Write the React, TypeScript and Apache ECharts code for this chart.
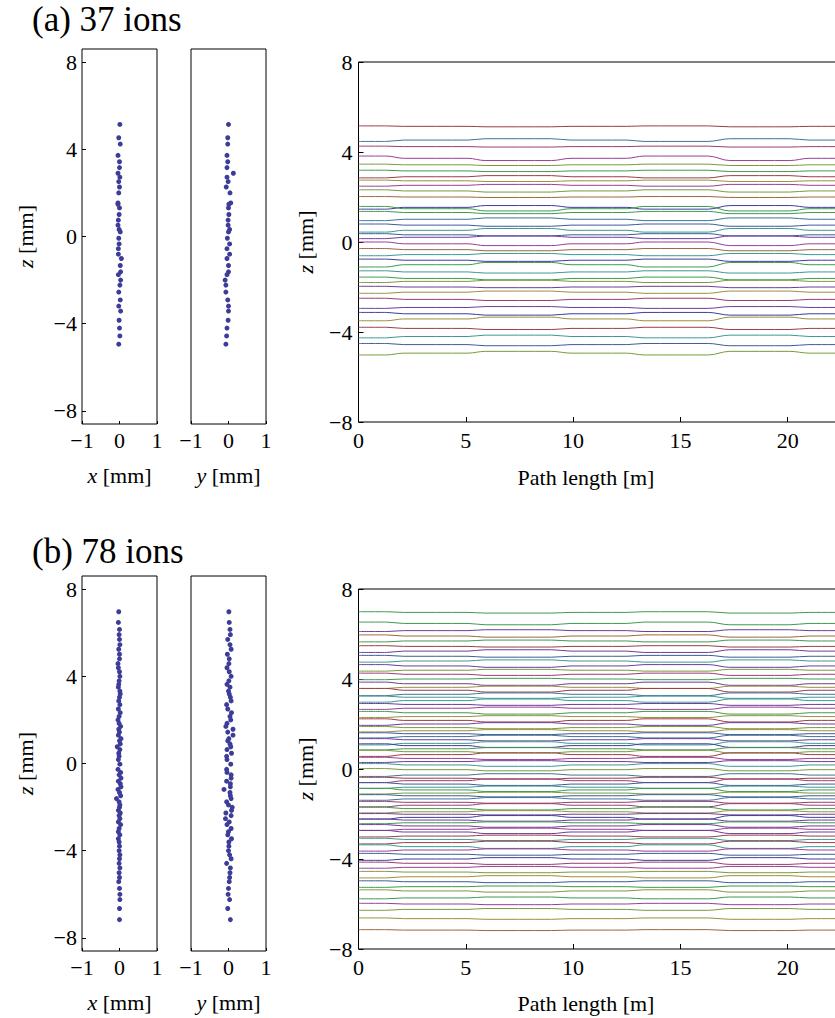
import React, { useEffect, useRef } from 'react';
import * as echarts from 'echarts';

// ---------- data: (a) 37 ions ----------
const zA = [5.14, 4.53, 4.24, 3.72, 3.43, 3.16, 2.90, 2.72, 2.52, 2.27, 2.00, 1.54, 1.48, 1.31, 1.01, 0.75, 0.52, 0.32, 0.21, -0.08, -0.34, -0.56, -0.81, -1.01, -1.33, -1.62, -1.75, -2.00, -2.23, -2.55, -2.91, -3.19, -3.42, -3.84, -4.20, -4.56, -4.94];
const xA = [0.01, -0.02, 0.02, -0.04, 0, 0, -0.04, 0.01, -0.02, 0, -0.02, -0.04, -0.04, 0, -0.01, -0.03, -0.04, -0.01, 0.02, -0.02, -0.01, -0.03, -0.03, 0.05, 0.02, 0.03, -0.03, 0.03, 0.01, -0.02, 0.02, -0.02, 0.03, -0.01, 0, 0.01, -0.02];
const yA = [0, -0.02, -0.02, -0.04, -0.02, -0.04, 0.13, -0.04, -0.01, -0.06, 0.04, 0.06, 0.01, 0, 0.01, -0.01, -0.01, 0.03, 0, -0.03, 0.03, -0.04, 0.03, -0.04, 0, 0, -0.04, -0.09, -0.07, -0.07, -0.02, 0, 0, -0.01, -0.04, -0.05, -0.07];
const ampA = [0.02, -0.06, 0.02, 0.10, 0.03, 0.03, -0.05, 0.03, -0.04, 0.05, 0.02, -0.08, 0.10, 0.05, -0.06, 0.05, -0.08, 0.05, -0.06, 0.08, 0.05, -0.05, 0.05, -0.10, 0.05, 0.06, -0.05, 0.03, -0.05, 0.05, -0.04, 0.06, -0.08, 0.05, -0.06, 0.05, -0.08];

// ---------- data: (b) 78 ions ----------
const zB = [6.96, 6.47, 6.15, 5.91, 5.69, 5.45, 5.24, 5.01, 4.80, 4.58, 4.39, 4.21, 4.00, 3.79, 3.63, 3.50, 3.32, 3.19, 3.04, 2.87, 2.70, 2.50, 2.33, 2.16, 2.00, 1.84, 1.70, 1.57, 1.44, 1.30, 1.14, 1.04, 0.90, 0.77, 0.64, 0.47, 0.33, 0.18,
  -0.03, -0.27, -0.41, -0.52, -0.67, -0.81, -0.93, -1.07, -1.19, -1.33, -1.48, -1.61, -1.76, -1.90, -2.01, -2.15, -2.27, -2.39, -2.53, -2.68, -2.80, -2.98, -3.13, -3.27, -3.45, -3.60, -3.79, -4.00, -4.19, -4.37, -4.58, -4.79, -5.01, -5.23, -5.42, -5.73, -6.00, -6.24, -6.65, -7.16];
const xB = [-0.02, -0.03, 0, -0.01, 0, 0.01, -0.02, 0, 0, -0.04, -0.03, 0, 0.01, -0.01, -0.02, -0.03, 0.01, 0.02, 0, -0.02, 0.01, -0.03, 0.02, -0.01, -0.04, -0.01, 0.03, -0.02, 0, -0.03, 0.04, 0, 0.02, -0.06, 0.01, -0.02, -0.01, -0.03, 0.01,
  -0.04, 0.03, -0.01, 0.04, -0.03, 0.02, 0.04, -0.04, 0, 0.03, -0.08, -0.01, 0.01, 0, -0.03, 0.02, -0.01, 0.01, -0.03, 0.03, -0.01, -0.03, 0.01, -0.03, -0.01, 0, -0.01, 0.01, 0, -0.01, 0.01, -0.01, 0, -0.02, 0, 0.01, 0.01, 0, 0];
const yB = [0.01, 0.02, 0.04, 0.05, -0.02, 0.04, 0.07, -0.03, 0.02, 0.01, -0.04, 0.02, 0.07, 0.01, -0.04, 0.04, 0, 0.02, 0.05, 0.07, -0.05, -0.02, 0.08, 0.04, 0.06, -0.04, -0.07, 0.12, -0.02, 0.12, 0.01, -0.02, 0.04, 0.06, -0.04, 0.08, -0.05, -0.04, 0.06,
  -0.05, -0.04, 0.07, 0.07, -0.05, 0.05, 0.05, -0.12, 0.04, 0.05, 0.07, -0.05, 0, 0.1, 0.08, -0.07, 0.07, -0.08, 0.02, -0.04, 0.07, 0, -0.02, 0.08, 0.01, 0.01, 0, 0.03, 0.07, -0.05, 0.05, 0.04, 0.03, 0.02, 0, -0.01, 0.03, -0.02, 0.05];
const ampB = [0.03, 0.06, -0.04, 0.05, -0.04, 0.03, -0.06, 0.04, -0.05, 0.06,
  -0.04, 0.05, -0.03, 0.07, -0.05, 0.08, -0.06, 0.05, -0.07, 0.04,
  -0.05, 0.06, -0.04, 0.07, -0.06, 0.05, -0.05, 0.04, -0.06, 0.05,
  -0.07, 0.08, -0.05, 0.06, -0.08, 0.05, -0.04, 0.06, 0.05, -0.06,
  0.04, -0.08, 0.06, -0.05, 0.07, -0.04, 0.05, -0.06, 0.04, -0.07,
  0.06, -0.05, 0.03, -0.08, 0.05, -0.04, 0.06, -0.05, 0.07, -0.04,
  0.05, -0.06, 0.08, -0.05, 0.04, -0.06, 0.05, -0.04, 0.03, -0.05,
  0.04, -0.03, 0.05, -0.04, 0.03, -0.04, 0.03, 0.02];

// path-length knots of the trajectories (m) and the relative shift at each knot
const pathKnots = [0, 1.3, 2.1, 5.1, 5.9, 9.0, 9.9, 12.5, 13.3, 16.3, 17.3, 20.1, 21.0, 25];
const knotShift = [1, 1, 0, 0, -1, -1, 0, 0, 1, 1, -1, -1, 0, 0];

const zTicks = [-8, -4, 0, 4, 8];
const titles = ['(a) 37 ions', '(b) 78 ions'];
const pathName = 'Path length [m]';

// ---------- styles ----------
const palette: Record<string, string> = {
  DB: '#3d3d99', B: '#3d5a99', SB: '#3d7399', T: '#3d9990', G: '#3d9950', OG: '#7a993d',
  K: '#99903d', BR: '#99683d', R: '#993d45', PK: '#993d6e', M: '#993d95', P: '#6a3d99',
};
const colorsA = ['R', 'SB', 'PK', 'M', 'OG', 'G', 'R', 'K', 'M', 'OG', 'BR', 'DB', 'G', 'G', 'SB', 'B', 'T', 'B', 'P', 'M', 'BR', 'T', 'DB', 'G', 'T', 'G', 'OG', 'P', 'K', 'PK', 'P', 'DB', 'K', 'R', 'T', 'B', 'OG'];
const colorsB = ['G', 'G', 'P', 'BR', 'G', 'R', 'P', 'B', 'T', 'P', 'OG', 'PK', 'G', 'P', 'K', 'R', 'SB', 'T', 'T', 'P', 'M', 'G', 'K', 'R', 'P', 'OG', 'K', 'B', 'SB', 'P', 'T', 'DB', 'G', 'OG', 'R', 'M', 'P', 'T',
  'OG', 'SB', 'R', 'PK', 'B', 'T', 'G', 'OG', 'B', 'SB', 'PK', 'PK', 'G', 'K', 'P', 'DB', 'P', 'G', 'P', 'M', 'P', 'R', 'T', 'R', 'T', 'M', 'B', 'DB', 'PK', 'M', 'OG', 'K', 'B', 'G', 'OG', 'G', 'M', 'OG', 'K', 'BR'];

const FONT = 'Liberation Serif';
const FS = 22;
const DOT = '#3d3d99';

const fmt = (v: number) => (v < 0 ? '\u2212' + Math.abs(v) : String(v));
const nameStyle = {
  fontSize: FS, fontFamily: FONT, color: '#000',
  rich: { i: { fontStyle: 'italic', fontSize: FS, fontFamily: FONT, color: '#000' } },
};
const labelBase = { fontSize: FS, fontFamily: FONT, color: '#000', formatter: fmt };
const noLine = { show: false, onZero: false };

function buildPanel(offset: number, idx: number, z: number[], xs: number[], ys: number[], amps: number[], cols: string[]) {
  const grids = [
    { left: 82, top: 49 + offset, width: 75, height: 375 },
    { left: 191, top: 49 + offset, width: 75, height: 375 },
    { left: 358.5, top: 62 + offset, width: 536.5, height: 360 },
  ].map((g) => ({ ...g, show: true, borderColor: '#000', borderWidth: 1, backgroundColor: 'transparent', outerBoundsMode: 'none', containLabel: false }));

  const scatterX = (gi: number, letter: string) => ({
    gridIndex: gi, type: 'value', min: -1, max: 1, interval: 1,
    axisLine: noLine, splitLine: { show: false },
    axisTick: { show: true, inside: true, length: 3, lineStyle: { color: '#000' } },
    axisLabel: { ...labelBase, margin: 5 },
    name: `{i|${letter}} [mm]`, nameLocation: 'middle', nameGap: 40, nameTextStyle: nameStyle,
  });
  const scatterY = (gi: number, withLabels: boolean) => ({
    gridIndex: gi, type: 'value', min: -8.6, max: 8.6,
    axisLine: noLine, splitLine: { show: false },
    axisTick: { show: withLabels, inside: true, length: 4, customValues: zTicks, lineStyle: { color: '#000' } },
    axisLabel: { ...labelBase, show: withLabels, customValues: zTicks, margin: 5 },
    name: withLabels ? '{i|z} [mm]' : '', nameLocation: 'middle', nameGap: 46, nameTextStyle: nameStyle,
  });

  const xAxes = [
    scatterX(idx, 'x'), scatterX(idx + 1, 'y'),
    {
      gridIndex: idx + 2, type: 'value', min: 0, max: 25, interval: 5,
      axisLine: noLine, splitLine: { show: false },
      axisTick: { show: true, inside: true, length: 5, lineStyle: { color: '#000' } },
      axisLabel: { ...labelBase, margin: 7, showMaxLabel: false },
    },
  ];
  const yAxes = [
    scatterY(idx, true), scatterY(idx + 1, false),
    {
      gridIndex: idx + 2, type: 'value', min: -8, max: 8, interval: 4,
      axisLine: noLine, splitLine: { show: false },
      axisTick: { show: true, inside: true, length: 5, lineStyle: { color: '#000' } },
      axisLabel: { ...labelBase, margin: 6 },
      name: '{i|z} [mm]', nameLocation: 'middle', nameGap: 42, nameTextStyle: nameStyle,
    },
  ];

  const dotStyle = { color: DOT, opacity: 1 };
  const series: any[] = [
    { type: 'scatter', xAxisIndex: idx, yAxisIndex: idx, symbolSize: 5, itemStyle: dotStyle, data: z.map((v, i) => [xs[i], v]) },
    { type: 'scatter', xAxisIndex: idx + 1, yAxisIndex: idx + 1, symbolSize: 5, itemStyle: dotStyle, data: z.map((v, i) => [ys[i], v]) },
  ];
  z.forEach((v, i) => {
    series.push({
      type: 'line', xAxisIndex: idx + 2, yAxisIndex: idx + 2, symbol: 'none', silent: true,
      smooth: 0.35, smoothMonotone: 'x',
      lineStyle: { width: 1, color: palette[cols[i]] },
      data: pathKnots.map((p, k) => [p, v + amps[i] * knotShift[k]]),
    });
  });
  return { grids, xAxes, yAxes, series };
}

export default function App() {
  const ref = useRef<HTMLDivElement>(null);
  useEffect(() => {
    if (!ref.current) return;
    const chart = echarts.init(ref.current, null, { renderer: 'svg' });
    const a = buildPanel(0, 0, zA, xA, yA, ampA, colorsA);
    const b = buildPanel(527, 3, zB, xB, yB, ampB, colorsB);
    const titleStyle = { fontSize: 35, fontFamily: FONT, fill: '#000', align: 'left', verticalAlign: 'middle' };
    const pathStyle = { fontSize: FS, fontFamily: FONT, fill: '#000', align: 'center', verticalAlign: 'middle' };
    chart.setOption({
      animation: false,
      backgroundColor: '#fff',
      textStyle: { fontFamily: FONT },
      grid: [...a.grids, ...b.grids],
      xAxis: [...a.xAxes, ...b.xAxes],
      yAxis: [...a.yAxes, ...b.yAxes],
      series: [...a.series, ...b.series],
      graphic: [
        { type: 'text', x: 32, y: 19, style: { text: titles[0], ...titleStyle } },
        { type: 'text', x: 32, y: 551, style: { text: titles[1], ...titleStyle } },
        { type: 'text', x: 586, y: 477, style: { text: pathName, ...pathStyle } },
        { type: 'text', x: 586, y: 1003, style: { text: pathName, ...pathStyle } },
      ],
    });
    return () => chart.dispose();
  }, []);
  return <div ref={ref} style={{ position: 'fixed', left: 0, top: 0, width: 835, height: 1018 }} />;
}
